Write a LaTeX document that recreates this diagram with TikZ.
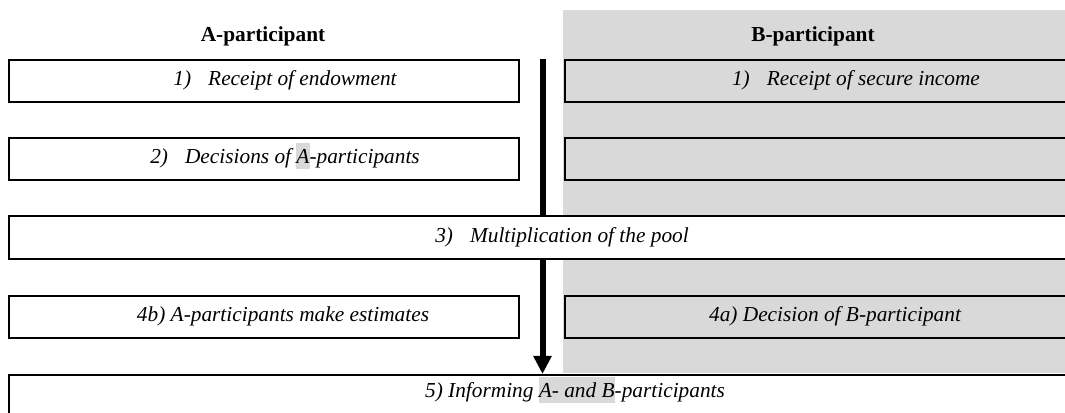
\documentclass[tikz,border=0pt]{standalone}
\usepackage{fontspec}
\setmainfont{Liberation Serif}
\usetikzlibrary{arrows.meta,calc}
\definecolor{bggray}{HTML}{D9D9D9}
\newcommand{\hlx}[1]{{\setlength{\fboxsep}{0pt}\colorbox{bggray}{\rule[-4pt]{0pt}{19.5pt}#1}}}
\begin{document}
\begin{tikzpicture}[x=0.75pt,y=-0.75pt,
  boxbase/.style={draw,line width=1.5pt,anchor=north west,inner sep=0pt},
  abox/.style={boxbase,fill=white,minimum width=382.5pt,minimum height=31.5pt},
  bbox/.style={boxbase,minimum width=412.5pt,minimum height=31.5pt},
  wbox/.style={boxbase,fill=white,minimum width=829.5pt,minimum height=32.25pt},
  txt/.style={font=\fontsize{16}{19}\selectfont\itshape,inner sep=0pt,text height=11pt,text depth=4pt},
  head/.style={font=\fontsize{16}{19}\selectfont\bfseries,anchor=base,inner sep=0pt},
  flow/.style={line width=4.5pt,-{Triangle[width=13pt,length=13.5pt]}}]
\useasboundingbox (0,0) rectangle (1065,413);
\clip (0,0) rectangle (1065,413);
\fill[bggray] (563,10) rectangle (1065,373);
\node[head] (ha) at (263,42) {A-participant};
\node[head] (hb) at (813,42) {B-participant};
\node[boxbase,fill=white,minimum width=829.5pt,minimum height=45pt] (b5) at (8,374) {};
\coordinate (atop) at (542.5,59);
\draw[flow] (atop) -- (atop |- b5.north);
\node[abox] (a1) at (8,59) {};
\node[bbox] (b1) at (564,59) {};
\node[abox] (a2) at (8,137) {};
\node[bbox] (b2) at (564,137) {};
\node[wbox] (b3) at (8,215) {};
\node[abox] (a4) at (8,295) {};
\node[bbox] (b4) at (564,295) {};
\node[txt,xshift=15.75pt] (ta1) at (a1) {1)\hspace{0.8em}Receipt of endowment};
\node[txt,xshift=12pt] (tb1) at (b1) {1)\hspace{0.8em}Receipt of secure income};
\node[txt,xshift=15.75pt] (ta2) at (a2) {2)\hspace{0.8em}Decisions of \hlx{A}-participants};
\node[txt] (tb3) at (b3) {3)\hspace{0.8em}Multiplication of the pool};
\node[txt,xshift=14.25pt] (ta4) at (a4) {4b) A-participants make estimates};
\node[txt,xshift=-3.75pt] (tb4) at (b4) {4a) Decision of B-participant};
\node[txt,anchor=base,xshift=9.75pt] (tb5) at ($(b5.north)+(0,24)$) {5) Informing \hlx{A- and B}-participants};
\end{tikzpicture}
\end{document}
